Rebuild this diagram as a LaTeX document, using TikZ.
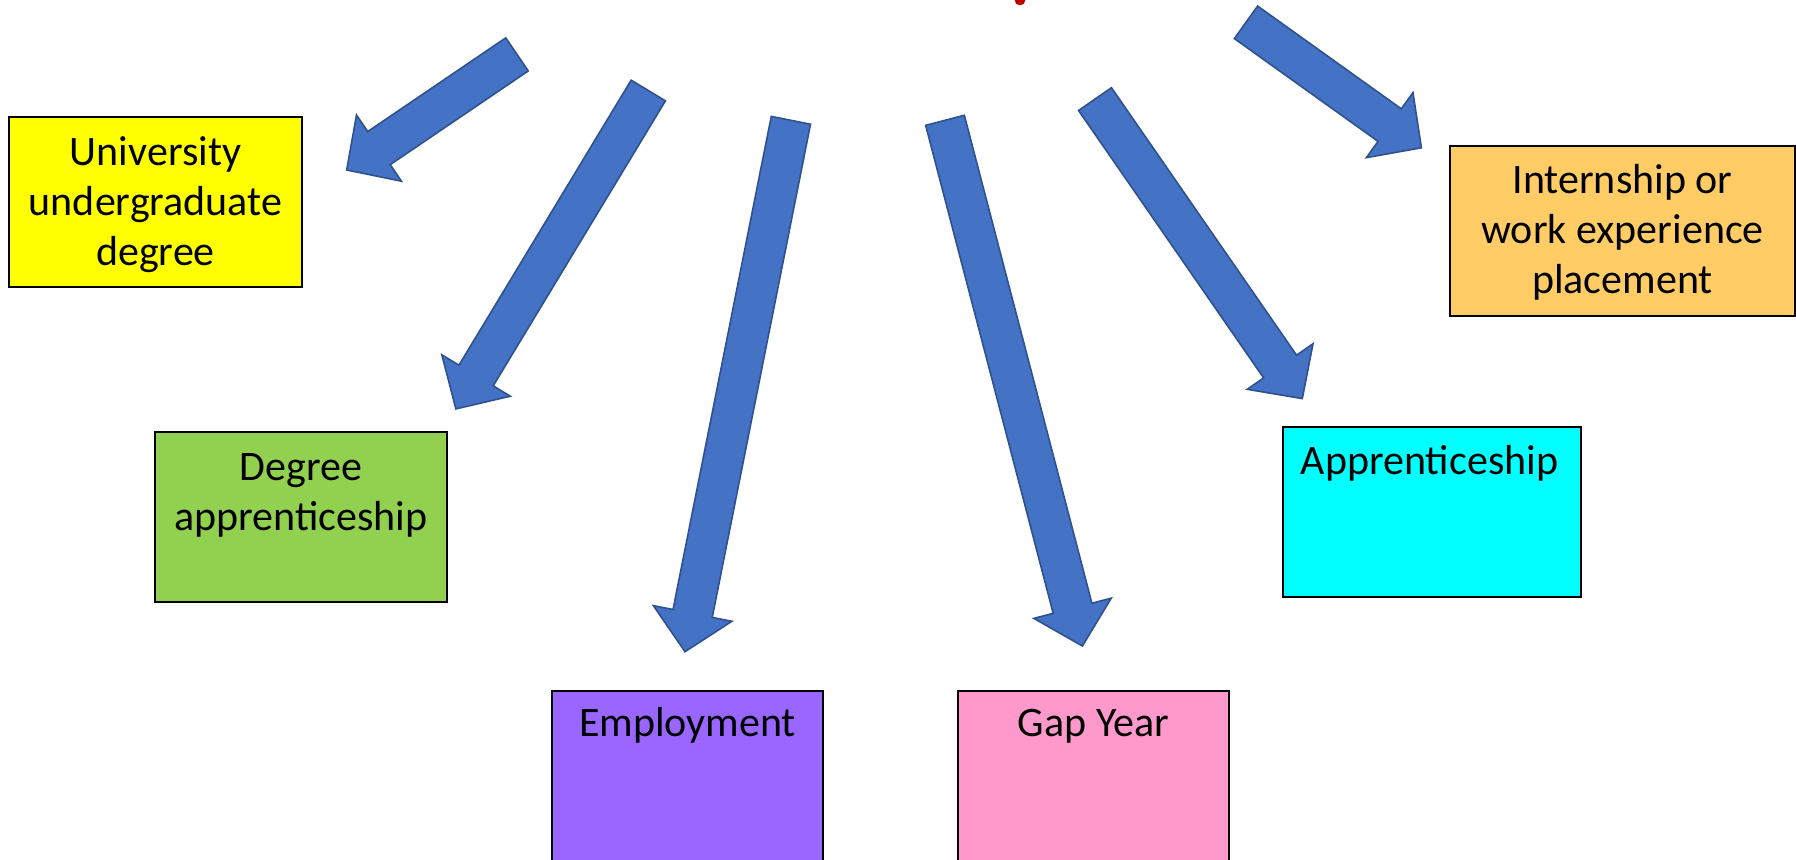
\documentclass[tikz,border=0pt]{standalone}
\usepackage{fontspec}
\setmainfont{Carlito}
\usetikzlibrary{calc}
\definecolor{arrowfill}{HTML}{4472C4}
\definecolor{arrowline}{HTML}{2F528F}
\definecolor{titlered}{HTML}{C00000}
\definecolor{cyellow}{HTML}{FFFF00}
\definecolor{cgreen}{HTML}{92D050}
\definecolor{cpurple}{HTML}{9966FF}
\definecolor{cpink}{HTML}{FF99CC}
\definecolor{ccyan}{HTML}{00FFFF}
\definecolor{corange}{HTML}{FFCC66}
\tikzset{
  boxstyle/.style={draw=black, line width=0.7pt, inner sep=0pt, rectangle},
  lbl/.style={font=\fontsize{21}{25}\selectfont, align=center, inner sep=0pt, anchor=base},
  blockarrow/.style={fill=arrowfill, draw=arrowline, line width=0.8pt, line join=miter},
}
\newcommand\bluearrow[3]{%
  \coordinate (#1-tail) at #2;
  \coordinate (#1-tip) at #3;
  \coordinate (#1-hb) at ($(#1-tip)!19.5pt!(#1-tail)$);
  \draw[blockarrow] ($(#1-tail)!10pt!90:(#1-tip)$)
    -- ($(#1-hb)!10pt!90:(#1-tip)$)
    -- ($(#1-hb)!20pt!90:(#1-tip)$)
    -- (#1-tip)
    -- ($(#1-hb)!20pt!-90:(#1-tip)$)
    -- ($(#1-hb)!10pt!-90:(#1-tip)$)
    -- ($(#1-tail)!10pt!-90:(#1-tip)$) -- cycle;
}
\begin{document}
\begin{tikzpicture}[x=0.5pt,y=-0.5pt]
\useasboundingbox (0,0) rectangle (1796,859);
\clip (0,0) rectangle (1796,859);
\fill[white] (0,0) rectangle (1796,859);
% fragment of the cut-off title
\fill[titlered, rounded corners=2pt] (1015,-10) rectangle (1025,5);
% boxes
\node[boxstyle, fill=cyellow, minimum width=146.5pt, minimum height=85pt] (uni) at (155.5,202) {};
\node[lbl] (unit) at (155.5,265) {University\\undergraduate\\degree};
\node[boxstyle, fill=cgreen, minimum width=146pt, minimum height=85pt] (dega) at (301,517) {};
\node[lbl] (degat) at (301,530) {Degree\\apprenticeship};
\node[boxstyle, fill=cpurple, minimum width=135.5pt, minimum height=134.5pt] (emp) at (687.5,825.5) {};
\node[lbl] (empt) at (687.5,736.5) {Employment};
\node[boxstyle, fill=cpink, minimum width=135.5pt, minimum height=134.5pt] (gap) at (1093.5,825.5) {};
\node[lbl] (gapt) at (1093.5,736.5) {Gap Year};
\node[boxstyle, fill=ccyan, minimum width=149pt, minimum height=85pt] (app) at (1432,512) {};
\node[lbl] (appt) at (1429.5,474) {Apprenticeship};
\node[boxstyle, fill=corange, minimum width=172.5pt, minimum height=85pt] (intern) at (1622.5,231) {};
\node[lbl] (interns) at (1622.5,293) {Internship or\\work experience\\placement};
% arrows
\bluearrow{a1}{(517,54.4)}{(346.7,170)}
\bluearrow{a2}{(648.3,90.5)}{(455.9,408.9)}
\bluearrow{a3}{(790.9,120.3)}{(685,651.7)}
\bluearrow{a4}{(945,120.3)}{(1082.4,646)}
\bluearrow{a5}{(1095,99.1)}{(1302.3,398.6)}
\bluearrow{a6}{(1246,22.3)}{(1421.4,147.8)}
\end{tikzpicture}
\end{document}
